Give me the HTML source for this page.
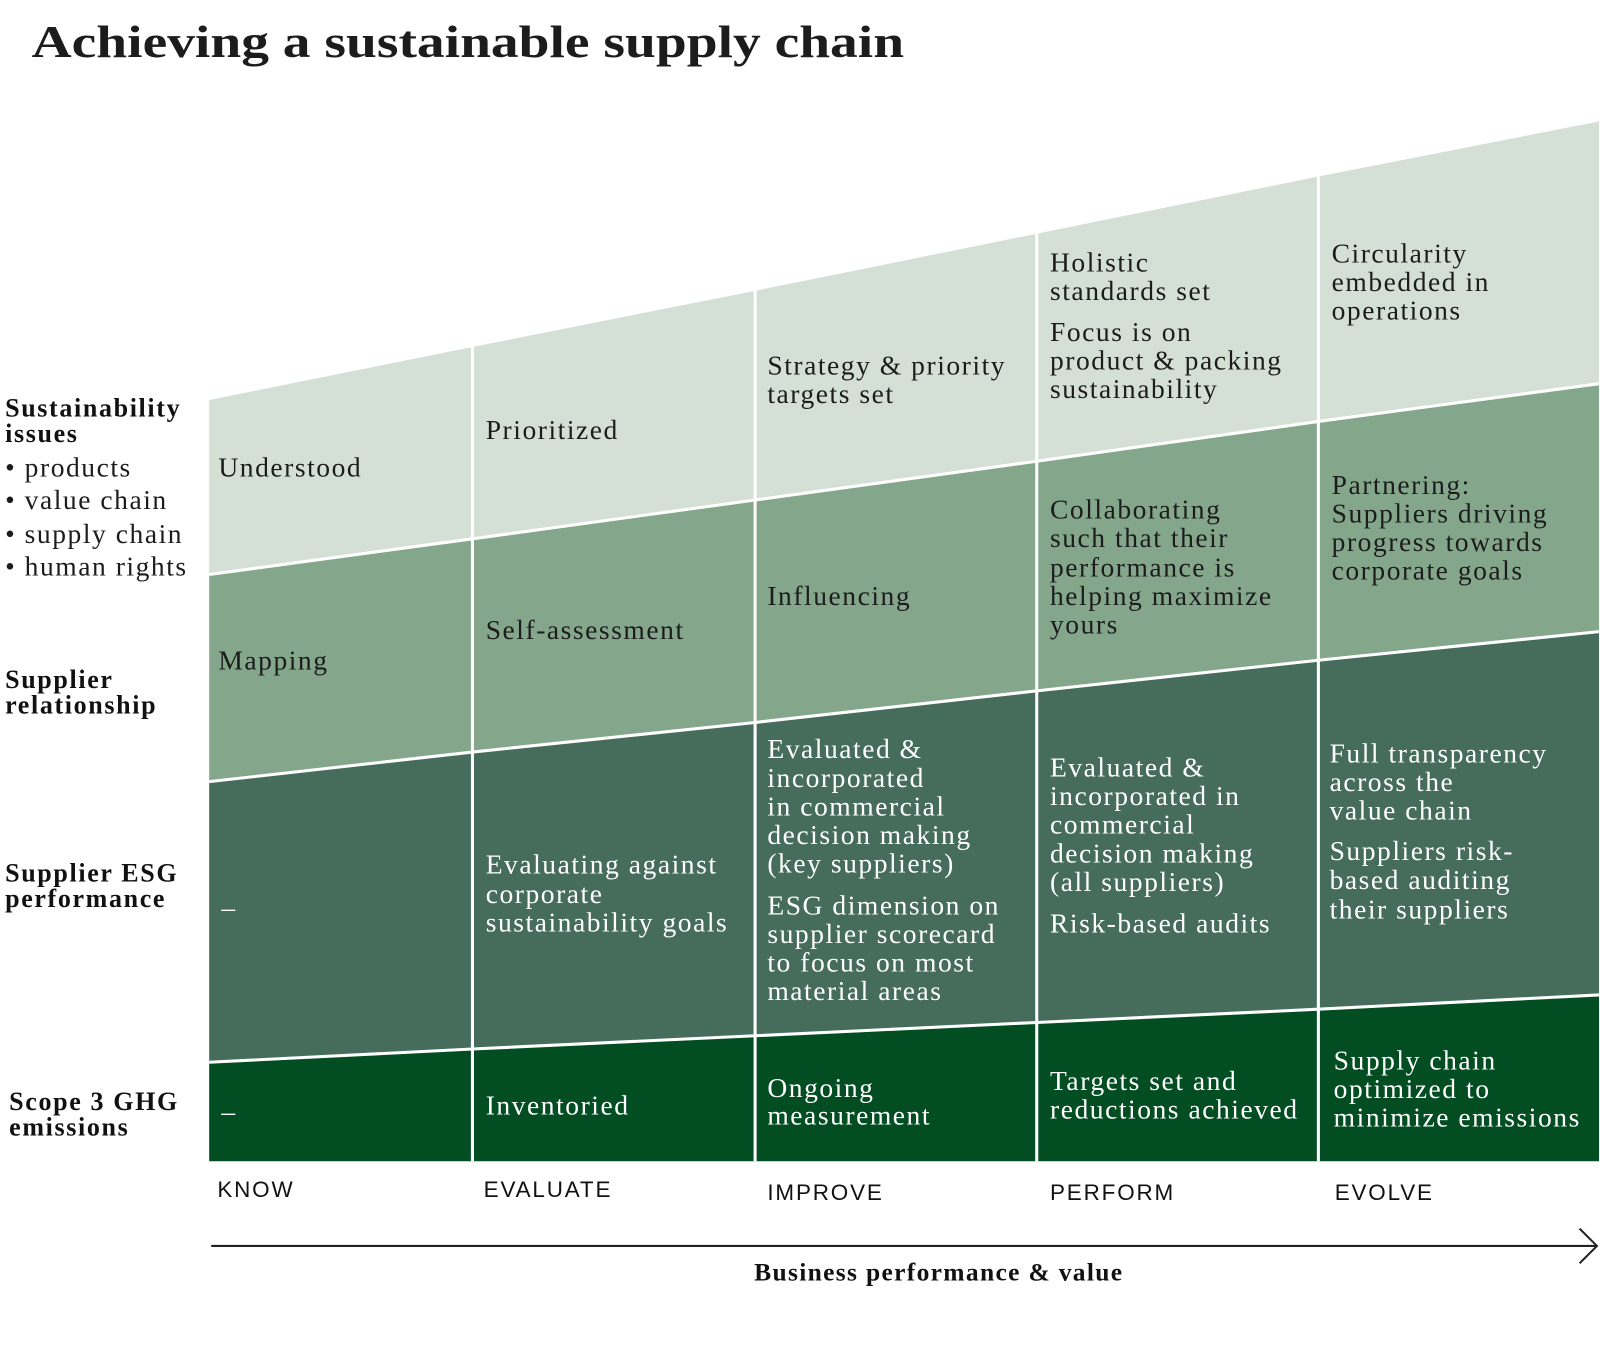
<!DOCTYPE html>
<html><head><meta charset="utf-8"><style>
html,body{margin:0;padding:0;background:#fff;}
svg{display:block;}
.t{font-family:"Liberation Serif",serif;font-size:27px;letter-spacing:1.5px;}
.d{fill:#1c1c1c;}
.w{fill:#ffffff;}
.b{font-family:"Liberation Serif",serif;font-weight:bold;font-size:25.5px;letter-spacing:1.6px;fill:#111;}
.s{font-family:"Liberation Sans",sans-serif;font-size:22px;letter-spacing:1.8px;fill:#111;}
</style></head><body>
<svg width="1600" height="1348" viewBox="0 0 1568 1321" xmlns="http://www.w3.org/2000/svg">
<text x="31" y="56" font-family="Liberation Serif,serif" font-weight="bold" font-size="45" fill="#1c1c1c" textLength="855" lengthAdjust="spacingAndGlyphs">Achieving a sustainable supply chain</text>

<polygon fill="#d4dfd6" points="205,392 463,340 740,285 1016,229 1292,173 1567,119 1567,376 1292,413 1016,452 740,490 463,528 205,563"/>
<polygon fill="#84a78c" points="205,563 463,528 740,490 1016,452 1292,413 1567,376 1567,619 1292,647 1016,677 740,708 463,737 205,766"/>
<polygon fill="#466c5c" points="205,766 463,737 740,708 1016,677 1292,647 1567,619 1567,975 1292,989 1016,1002 740,1015 463,1028 205,1041"/>
<polygon fill="#024d22" points="205,1041 463,1028 740,1015 1016,1002 1292,989 1567,975 1567,1138 205,1138"/>

<g stroke="#fff" stroke-width="3" fill="none">
<polyline points="205,563 463,528 740,490 1016,452 1292,413 1567,376"/>
<polyline points="205,766 463,737 740,708 1016,677 1292,647 1567,619"/>
<polyline points="205,1041 463,1028 740,1015 1016,1002 1292,989 1567,975"/>
<line x1="463" y1="340" x2="463" y2="1138"/>
<line x1="740" y1="285" x2="740" y2="1138"/>
<line x1="1016" y1="229" x2="1016" y2="1138"/>
<line x1="1292" y1="173" x2="1292" y2="1138"/>
</g>

<text class="b" x="5" y="408">Sustainability</text>
<text class="b" x="5" y="433">issues</text>
<text class="t d" x="5" y="467">• products</text>
<text class="t d" x="5" y="499">• value chain</text>
<text class="t d" x="5" y="532">• supply chain</text>
<text class="t d" x="5" y="564">• human rights</text>
<text class="b" x="5" y="674">Supplier</text>
<text class="b" x="5" y="699">relationship</text>
<text class="b" x="5" y="864">Supplier ESG</text>
<text class="b" x="5" y="889">performance</text>
<text class="b" x="9" y="1088">Scope 3 GHG</text>
<text class="b" x="9" y="1113">emissions</text>

<text class="t d" x="214" y="467">Understood</text>
<text class="t d" x="214" y="656">Mapping</text>
<text class="t w" x="217" y="898">–</text>
<text class="t w" x="217" y="1098">–</text>

<text class="t d" x="476" y="430">Prioritized</text>
<text class="t d" x="476" y="626">Self-assessment</text>
<text class="t w"><tspan x="476" y="856">Evaluating against</tspan><tspan x="476" y="885">corporate</tspan><tspan x="476" y="913">sustainability goals</tspan></text>
<text class="t w" x="476" y="1092">Inventoried</text>

<text class="t d"><tspan x="752" y="367">Strategy &amp; priority</tspan><tspan x="752" y="395">targets set</tspan></text>
<text class="t d" x="752" y="593">Influencing</text>
<text class="t w"><tspan x="752" y="743">Evaluated &amp;</tspan><tspan x="752" y="771">incorporated</tspan><tspan x="752" y="799">in commercial</tspan><tspan x="752" y="827">decision making</tspan><tspan x="752" y="855">(key suppliers)</tspan></text>
<text class="t w"><tspan x="752" y="896">ESG dimension on</tspan><tspan x="752" y="924">supplier scorecard</tspan><tspan x="752" y="952">to focus on most</tspan><tspan x="752" y="980">material areas</tspan></text>
<text class="t w"><tspan x="752" y="1075">Ongoing</tspan><tspan x="752" y="1102">measurement</tspan></text>

<text class="t d"><tspan x="1029" y="266">Holistic</tspan><tspan x="1029" y="294">standards set</tspan></text>
<text class="t d"><tspan x="1029" y="334">Focus is on</tspan><tspan x="1029" y="362">product &amp; packing</tspan><tspan x="1029" y="390">sustainability</tspan></text>
<text class="t d"><tspan x="1029" y="508">Collaborating</tspan><tspan x="1029" y="536">such that their</tspan><tspan x="1029" y="565">performance is</tspan><tspan x="1029" y="593">helping maximize</tspan><tspan x="1029" y="621">yours</tspan></text>
<text class="t w"><tspan x="1029" y="761">Evaluated &amp;</tspan><tspan x="1029" y="789">incorporated in</tspan><tspan x="1029" y="817">commercial</tspan><tspan x="1029" y="845">decision making</tspan><tspan x="1029" y="873">(all suppliers)</tspan></text>
<text class="t w" x="1029" y="914">Risk-based audits</text>
<text class="t w"><tspan x="1029" y="1068">Targets set and</tspan><tspan x="1029" y="1096">reductions achieved</tspan></text>

<text class="t d"><tspan x="1305" y="257">Circularity</tspan><tspan x="1305" y="285">embedded in</tspan><tspan x="1305" y="313">operations</tspan></text>
<text class="t d"><tspan x="1305" y="484">Partnering:</tspan><tspan x="1305" y="512">Suppliers driving</tspan><tspan x="1305" y="540">progress towards</tspan><tspan x="1305" y="568">corporate goals</tspan></text>
<text class="t w"><tspan x="1303" y="747">Full transparency</tspan><tspan x="1303" y="775">across the</tspan><tspan x="1303" y="803">value chain</tspan></text>
<text class="t w"><tspan x="1303" y="843">Suppliers risk-</tspan><tspan x="1303" y="871">based auditing</tspan><tspan x="1303" y="900">their suppliers</tspan></text>
<text class="t w"><tspan x="1307" y="1048">Supply chain</tspan><tspan x="1307" y="1076">optimized to</tspan><tspan x="1307" y="1104">minimize emissions</tspan></text>

<text class="s" x="213" y="1173">KNOW</text>
<text class="s" x="474" y="1173">EVALUATE</text>
<text class="s" x="752" y="1176">IMPROVE</text>
<text class="s" x="1029" y="1176">PERFORM</text>
<text class="s" x="1308" y="1176">EVOLVE</text>

<line x1="207" y1="1221" x2="1564" y2="1221" stroke="#222" stroke-width="2"/>
<polyline points="1548,1204 1565,1221 1548,1238" fill="none" stroke="#222" stroke-width="2"/>
<text x="920" y="1255" text-anchor="middle" font-family="Liberation Serif,serif" font-weight="bold" font-size="25" letter-spacing="1.3" fill="#111">Business performance &amp; value</text>
</svg>
</body></html>
